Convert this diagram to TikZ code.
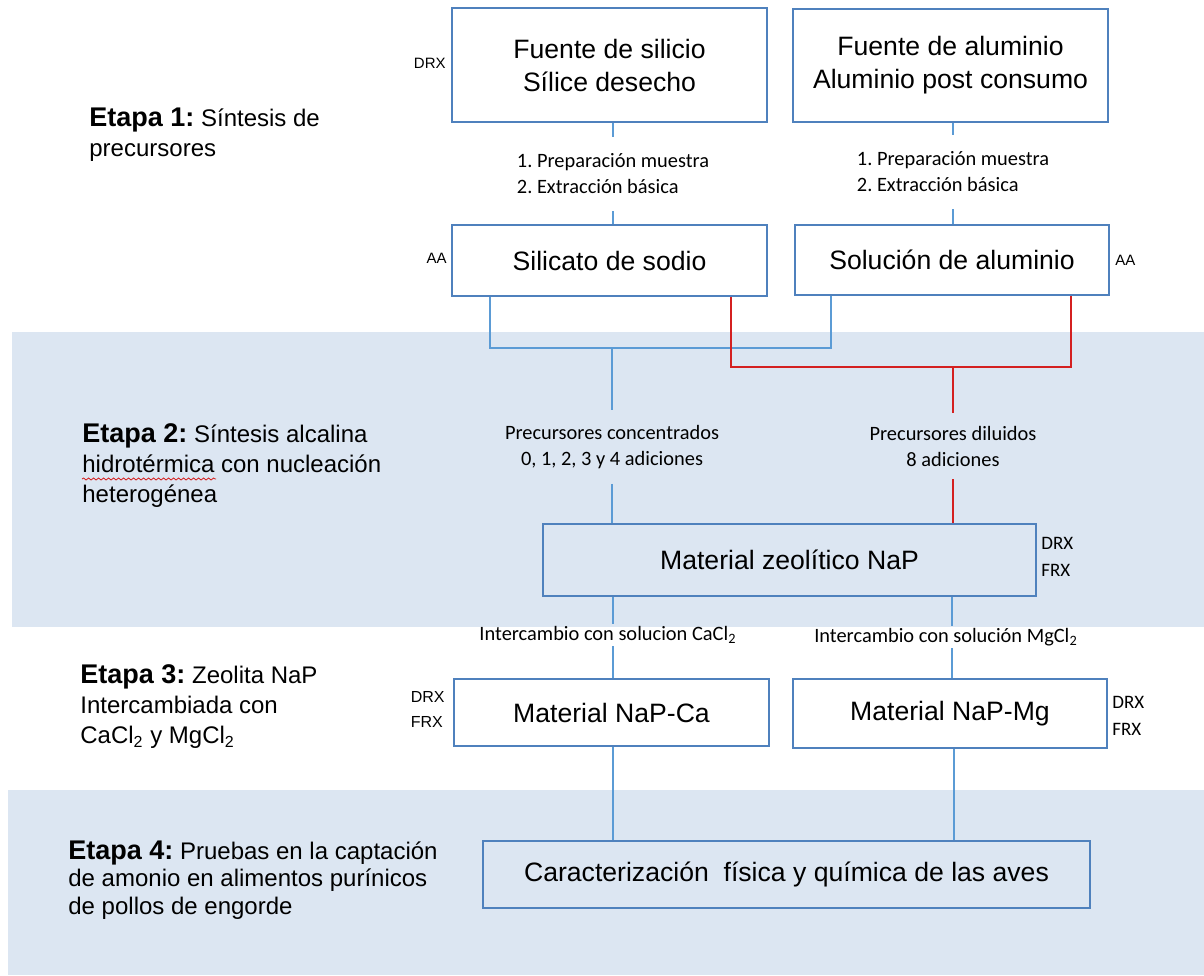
\documentclass[tikz,border=0pt]{standalone}
\usepackage{fontspec}
\setmainfont{Liberation Sans}
\newfontfamily\calibri{Carlito}
\usepackage{xcolor}
\usetikzlibrary{decorations.pathmorphing}
\frenchspacing

\definecolor{bandblue}{HTML}{DCE6F2}
\definecolor{boxblue}{HTML}{4F81BD}
\definecolor{lineblue}{HTML}{5B9BD5}
\definecolor{linered}{HTML}{D42020}
\newcommand{\pxu}{0.5pt}
\newcommand{\etapahead}[1]{{\bfseries\fontsize{13.5}{15}\selectfont Etapa #1:}}

\tikzset{
	box/.style={draw=boxblue, line width=0.9pt, inner sep=0pt, align=center, font=\fontsize{13.3}{16.5}\selectfont},
	tag/.style={inner sep=0pt, align=left, font=\fontsize{7.5}{12.5}\selectfont},
	calitag/.style={inner sep=0pt, align=left, font=\calibri\fontsize{9.5}{13.5}\selectfont},
	procnote/.style={inner sep=0pt, font=\calibri\fontsize{10.2}{13}\selectfont},
	etapa/.style={anchor=west, inner sep=0pt, align=left, font=\fontsize{12}{15}\selectfont},
	blueln/.style={draw=lineblue, line width=0.9pt},
	redln/.style={draw=linered, line width=0.9pt},
}

\begin{document}
\begin{tikzpicture}[x=0.5pt, y=-0.5pt]
	\useasboundingbox (0,0) rectangle (1204,975);
	\fill[white] (0,0) rectangle (1204,975);

	% Shaded bands for stages 2 and 4
	\fill[bandblue] (12,332) rectangle (1204,627);
	\fill[bandblue] (8,790) rectangle (1204,975);

	% Stage descriptions
	\node[etapa] (etapa1) at (89,135) {\etapahead{1} Síntesis de\\precursores};
	\node[etapa] (etapa2) at (82,466) {\etapahead{2} Síntesis alcalina\\hidrotérmica con nucleación\\heterogénea};
	\node[etapa] (etapa3) at (80,707) {\etapahead{3} Zeolita NaP\\Intercambiada con\\CaCl\textsubscript{2} y MgCl\textsubscript{2}};
	\node[etapa, font=\fontsize{12}{13.8}\selectfont] (etapa4) at (68,880) {\etapahead{4} Pruebas en la captación\\de amonio en alimentos purínicos\\de pollos de engorde};
	\draw[linered, line width=0.4pt, decorate, decoration={snake, amplitude=0.5pt, segment length=2.5pt}] (82,479) -- (216,479);

	% Boxes
	\node[box, minimum width=315*\pxu, minimum height=114*\pxu] (silicio) at (609.5,65) {Fuente de silicio\\Sílice desecho};
	\node[box, minimum width=315*\pxu, minimum height=113*\pxu] (aluminio) at (950.5,65.5) {Fuente de aluminio\\Aluminio post consumo};
	\node[box, minimum width=315*\pxu, minimum height=71*\pxu] (silicato) at (609.5,260.5) {Silicato de sodio};
	\node[box, minimum width=314*\pxu, minimum height=70*\pxu] (solucion) at (952,260) {Solución de aluminio};
	\node[box, minimum width=493*\pxu, minimum height=72*\pxu] (zeolita) at (789.5,560) {Material zeolítico NaP};
	\node[box, minimum width=315*\pxu, minimum height=67*\pxu] (napca) at (611.5,712.5) {Material NaP-Ca};
	\node[box, minimum width=314*\pxu, minimum height=69*\pxu] (napmg) at (950,713.5) {Material NaP-Mg};
	\node[box, minimum width=607*\pxu, minimum height=67*\pxu] (caract) at (786.5,874.5) {Caracterización~ física y química de las aves};

	% Analysis tags
	\node[tag, anchor=east] (drxSi) at (446,63) {DRX};
	\node[tag, anchor=east] (aaSi) at (447,258) {AA};
	\node[tag, anchor=west] (aaAl) at (1115,260) {AA};
	\node[calitag, anchor=west] (tagZeo) at (1041,557) {DRX\\FRX};
	\node[tag, anchor=east, font=\fontsize{8}{12.5}\selectfont] (tagCa) at (445,709) {DRX\\FRX};
	\node[calitag, anchor=west] (tagMg) at (1112,716) {DRX\\FRX};

	% Process notes on the connectors
	\node[procnote, align=left, minimum height=74*\pxu] (prepSi) at (613,174) {1. Preparación muestra\\2. Extracción básica};
	\node[procnote, align=left, minimum height=74*\pxu] (prepAl) at (953,172) {1. Preparación muestra\\2. Extracción básica};
	\node[procnote, align=center, minimum height=73*\pxu] (concSi) at (612,447) {Precursores concentrados\\0, 1, 2, 3 y 4 adiciones};
	\node[procnote, align=center, minimum height=66*\pxu] (dilAl) at (953,446) {Precursores diluidos\\8 adiciones};
	\node[procnote, minimum height=22*\pxu] (intCa) at (608,635) {Intercambio con solucion CaCl\textsubscript{2}};
	\node[procnote, minimum height=22*\pxu] (intMg) at (946,637) {Intercambio con solución MgCl\textsubscript{2}};

	% Stage 1 connectors
	\draw[blueln] (prepSi.north |- silicio.south) -- (prepSi.north);
	\draw[blueln] (prepSi.south) -- (prepSi.south |- silicato.north);
	\draw[blueln] (prepAl.north |- aluminio.south) -- (prepAl.north);
	\draw[blueln] (prepAl.south) -- (prepAl.south |- solucion.north);

	% Mixing of the precursors
	\coordinate (bL) at (490,348);
	\coordinate (bR) at (831,348);
	\coordinate (rL) at (731,367);
	\coordinate (rR) at (1071,367);
	\draw[blueln] (silicato.south -| bL) -- (bL) -- (bR) -- (solucion.south -| bR);
	\draw[blueln] (bL -| concSi) -- (concSi.north);
	\draw[blueln] (concSi.south) -- (concSi.south |- zeolita.north);
	\draw[redln] (silicato.south -| rL) -- (rL) -- (rR) -- (solucion.south -| rR);
	\draw[redln] (rL -| dilAl) -- (dilAl.north);
	\draw[redln] (dilAl.south) -- (dilAl.south |- zeolita.north);

	% Ion exchange and tests
	\draw[blueln] (zeolita.south -| 613,0) -- (intCa.north -| 613,0);
	\draw[blueln] (intCa.south -| 613,0) -- (napca.north -| 613,0);
	\draw[blueln] (zeolita.south -| 952,0) -- (intMg.north -| 952,0);
	\draw[blueln] (intMg.south -| 952,0) -- (napmg.north -| 952,0);
	\draw[blueln] (napca.south -| 613,0) -- (caract.north -| 613,0);
	\draw[blueln] (napmg.south -| 954,0) -- (caract.north -| 954,0);
\end{tikzpicture}
\end{document}
